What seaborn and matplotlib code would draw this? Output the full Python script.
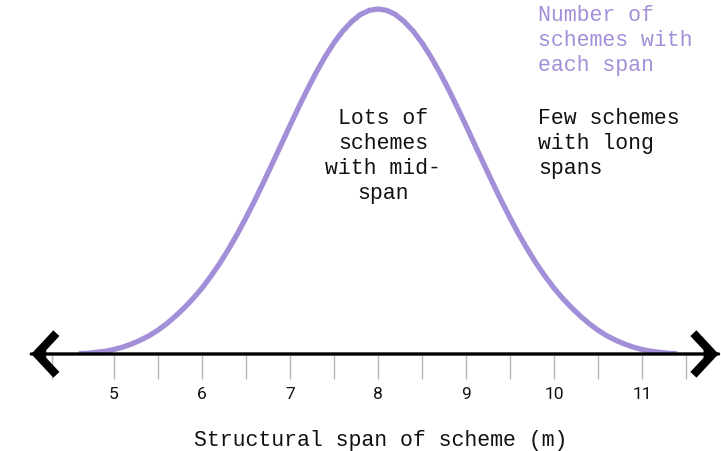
import matplotlib
matplotlib.use("Agg")
import matplotlib.pyplot as plt
import seaborn as sns

sns.set_style("white")
plt.rcParams["font.family"] = ["Liberation Mono", "DejaVu Sans Mono"]

# ================================
# DATA
# ================================

span_m = [4.6, 4.7, 4.8, 4.9, 5.0, 5.1, 5.2, 5.3, 5.4, 5.5, 5.6, 5.7, 5.8, 5.9,
          6.0, 6.1, 6.2, 6.3, 6.4, 6.5, 6.6, 6.7, 6.8, 6.9, 7.0, 7.1, 7.2, 7.3,
          7.4, 7.5, 7.6, 7.7, 7.8, 7.9, 8.0, 8.1, 8.2, 8.3, 8.4, 8.5, 8.6, 8.7,
          8.8, 8.9, 9.0, 9.1, 9.2, 9.3, 9.4, 9.5, 9.6, 9.7, 9.8, 9.9, 10.0,
          10.1, 10.2, 10.3, 10.4, 10.5, 10.6, 10.7, 10.8, 10.9, 11.0, 11.1,
          11.2, 11.3, 11.4]
schemes = [0.1, 0.2, 0.5, 0.8, 1.3, 2.0, 2.9, 4.0, 5.3, 6.9, 8.8, 11.0, 13.4, 16.1,
           19.1, 22.5, 26.2, 30.3, 34.7, 39.5, 44.5, 49.8, 55.2, 60.7, 66.2, 71.6,
           76.8, 81.7, 86.2, 90.2, 93.6, 96.3, 98.4, 99.6, 100.0, 99.6, 98.4, 96.3,
           93.6, 90.2, 86.2, 81.7, 76.8, 71.6, 66.2, 60.7, 55.2, 49.8, 44.5, 39.5,
           34.7, 30.3, 26.2, 22.5, 19.1, 16.1, 13.4, 11.0, 8.8, 6.9, 5.3, 4.0, 2.9,
           2.0, 1.3, 0.8, 0.5, 0.2, 0.1]

major_ticks = [5, 6, 7, 8, 9, 10, 11]
minor_ticks = [4.3, 5.5, 6.5, 7.5, 8.5, 9.5, 10.5, 11.5]

purple = "#a38fd8"

# ================================
# PLOT
# ================================

fig = plt.figure(figsize=(7.21, 4.52), dpi=100)
ax = fig.add_axes([0, 0.2124, 1, 0.7876])

sns.lineplot(x=span_m, y=schemes, ax=ax, color=purple, linewidth=3.8,
             solid_capstyle="butt", solid_joinstyle="round", zorder=2)

ax.set_xlim(3.705, 11.898)
ax.set_ylim(-0.29, 102.9)

# number line with chevron ends
ax.annotate("", xy=(11.87, 0), xytext=(4.06, 0),
            arrowprops=dict(arrowstyle="-", lw=2.4, color="black",
                            shrinkA=0, shrinkB=0), zorder=3)
for tip, back in [(11.87, 11.7), (4.06, 4.23)]:
    ax.annotate("", xy=(tip, 0), xytext=(back, 0),
                arrowprops=dict(arrowstyle="->,head_length=0.7,head_width=0.75",
                                lw=6, color="black", mutation_scale=20,
                                shrinkA=0, shrinkB=0, joinstyle="miter",
                                capstyle="butt"),
                zorder=3)

for s in ax.spines.values():
    s.set_visible(False)

ax.set_yticks([])
ax.set_xticks(major_ticks)
ax.set_xticks(minor_ticks, minor=True)
ax.tick_params(axis="x", which="both", direction="out", length=17, width=1,
               color="#b2b6be", bottom=True, pad=5)
ax.tick_params(axis="x", which="major", labelsize=12.5)
for lab in ax.get_xticklabels():
    lab.set_family(["Roboto", "DejaVu Sans"])
    lab.set_color("#111111")

ax.set_xlabel("Structural span of scheme (m)", fontsize=15.5, color="#111111")
ax.xaxis.set_label_coords(0.528, -0.208)

ax.text(8.06, 57.7, "Lots of\nschemes\nwith mid-\nspan", ha="center",
        va="center", multialignment="center", fontsize=15.5,
        linespacing=1.25, color="#111111")
ax.text(9.82, 91.2, "Number of\nschemes with\neach span", ha="left",
        va="center", fontsize=15.5, linespacing=1.25, color=purple)
ax.text(9.82, 61.3, "Few schemes\nwith long\nspans", ha="left",
        va="center", fontsize=15.5, linespacing=1.25, color="#111111")

fig.savefig("out.png", dpi=100)
